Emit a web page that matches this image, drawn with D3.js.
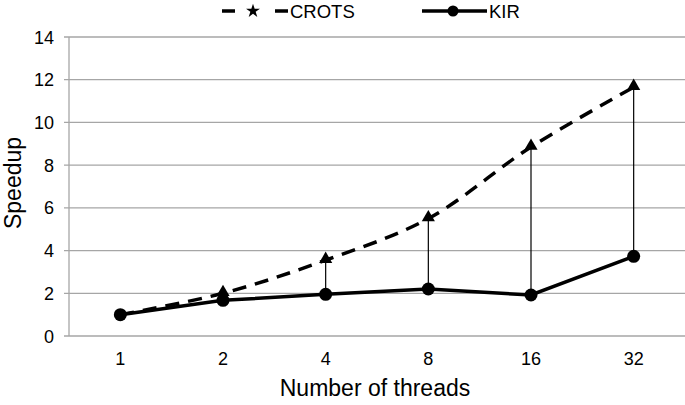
<!DOCTYPE html>
<html>
<head>
<meta charset="utf-8">
<script src="https://cdn.jsdelivr.net/npm/d3@7"></script>
<style>
  body { margin: 0; background: #fff; }
  text { font-family: "Liberation Sans", Arial, sans-serif; fill: #000; }
</style>
</head>
<body>
<svg id="chart" width="685" height="405"></svg>
<script>
// data
var threads = ["1", "2", "4", "8", "16", "32"];
var crots = [1.0, 2.0, 3.55, 5.5, 8.85, 11.65];
var kir = [1.0, 1.67, 1.95, 2.2, 1.92, 3.73];
var yTicks = [0, 2, 4, 6, 8, 10, 12, 14];

var svg = d3.select("#chart");
var margin = { left: 69, right: 0, top: 37, bottom: 69 };
var width = 685 - margin.left - margin.right;
var height = 405 - margin.top - margin.bottom;

var g = svg.append("g")
  .attr("transform", "translate(" + margin.left + "," + margin.top + ")");

var x = d3.scaleBand().domain(threads).range([0, width]);
var y = d3.scaleLinear().domain([0, 14]).range([height, 0]);
var cx = function(d, i) { return x(threads[i]) + x.bandwidth() / 2; };

// gridlines
g.selectAll(".grid").data(yTicks).enter()
  .append("line")
  .attr("x1", -5).attr("x2", width)
  .attr("y1", function(d) { return y(d); })
  .attr("y2", function(d) { return y(d); })
  .style("stroke", "#a6a6a6")
  .style("stroke-width", 1.3);

// y axis line
g.append("line")
  .attr("x1", 0).attr("x2", 0)
  .attr("y1", 0).attr("y2", height)
  .style("stroke", "#a6a6a6").style("stroke-width", 1.3);

// y tick labels
g.selectAll(".ylab").data(yTicks).enter()
  .append("text")
  .attr("x", -15)
  .attr("y", function(d) { return y(d) + 6.5; })
  .attr("text-anchor", "end")
  .style("font-size", "18px")
  .text(function(d) { return d; });

// x tick labels
g.selectAll(".xlab").data(threads).enter()
  .append("text")
  .attr("x", function(d) { return x(d) + x.bandwidth() / 2; })
  .attr("y", height + 29)
  .attr("text-anchor", "middle")
  .style("font-size", "18px")
  .text(function(d) { return d; });

// axis titles
svg.append("text")
  .attr("x", margin.left + width / 2 - 2)
  .attr("y", 396)
  .attr("text-anchor", "middle")
  .style("font-size", "23px")
  .text("Number of threads");

svg.append("text")
  .attr("transform", "translate(21,183) rotate(-90)")
  .attr("text-anchor", "middle")
  .style("font-size", "23px")
  .text("Speedup");

// vertical arrows from KIR to CROTS
g.selectAll(".arrow").data(crots).enter()
  .append("line")
  .attr("x1", cx).attr("x2", cx)
  .attr("y1", function(d, i) { return y(kir[i]); })
  .attr("y2", function(d) { return y(d); })
  .style("stroke", "#000").style("stroke-width", 1.2);

// CROTS dashed line
var crotsLine = d3.line()
  .x(cx)
  .y(function(d) { return y(d); })
  .curve(d3.curveCatmullRom.alpha(0.5));

g.append("path")
  .datum(crots)
  .attr("d", crotsLine)
  .style("fill", "none")
  .style("stroke", "#000")
  .style("stroke-width", 3.5)
  .style("stroke-dasharray", "14,9");

// KIR solid line
var kirLine = d3.line()
  .x(cx)
  .y(function(d) { return y(d); });

g.append("path")
  .datum(kir)
  .attr("d", kirLine)
  .style("fill", "none")
  .style("stroke", "#000")
  .style("stroke-width", 3.5);

// arrowheads at CROTS points
var tri = d3.symbol().type(d3.symbolTriangle).size(75);
g.selectAll(".tri").data(crots).enter()
  .append("path")
  .filter(function(d, i) { return i > 0; })
  .attr("d", tri)
  .attr("transform", function(d, i) {
    return "translate(" + cx(d, i + 1) + "," + (y(d) - 1) + ")";
  })
  .style("fill", "#000");

// KIR markers
g.selectAll(".dot").data(kir).enter()
  .append("circle")
  .attr("cx", cx)
  .attr("cy", function(d) { return y(d); })
  .attr("r", 6.5)
  .style("fill", "#000");

// legend
var leg = svg.append("g");
leg.append("line")
  .attr("x1", 222).attr("x2", 288).attr("y1", 11).attr("y2", 11)
  .style("stroke", "#000").style("stroke-width", 3.5)
  .style("stroke-dasharray", "13,40,13");
leg.append("path")
  .attr("d", d3.symbol().type(d3.symbolStar).size(60))
  .attr("transform", "translate(253,11)")
  .style("fill", "#000");
leg.append("text")
  .attr("x", 290).attr("y", 17.5)
  .style("font-size", "18.5px")
  .text("CROTS");

leg.append("line")
  .attr("x1", 422).attr("x2", 487).attr("y1", 11).attr("y2", 11)
  .style("stroke", "#000").style("stroke-width", 3.5);
leg.append("circle")
  .attr("cx", 453).attr("cy", 11).attr("r", 5.5)
  .style("fill", "#000");
leg.append("text")
  .attr("x", 489).attr("y", 17.5)
  .style("font-size", "18.5px")
  .text("KIR");
</script>
</body>
</html>
